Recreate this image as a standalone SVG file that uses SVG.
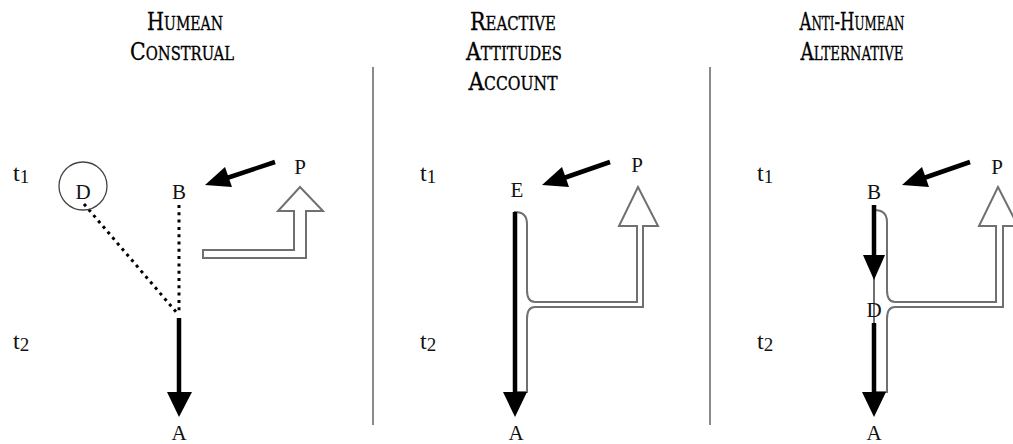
<svg xmlns="http://www.w3.org/2000/svg" width="1013" height="444" viewBox="0 0 1013 444">
<style>
.title{font-family:"DejaVu Serif","Liberation Serif",serif;font-stretch:condensed;font-size:25px;font-variant:small-caps;fill:#000;stroke:#000;stroke-width:0.3;text-anchor:middle}
.lbl{font-family:"Liberation Serif",serif;font-size:21px;fill:#111;text-anchor:middle}
.t{font-family:"Liberation Serif",serif;font-size:24px;fill:#111}
.sub{font-size:19px}
.sep{stroke:#8a8a8a;stroke-width:2;fill:none}
.blk{stroke:#000;stroke-width:4.5;fill:none}
.head{fill:#000;stroke:none}
.hollow{fill:#fff;stroke:#707070;stroke-width:2;stroke-linejoin:miter}
.dots{stroke:#000;stroke-width:3;fill:none;stroke-dasharray:3 4.3}
</style>
<g id="titles">
<text class="title" x="185" y="30" textLength="76" lengthAdjust="spacingAndGlyphs">Humean</text>
<text class="title" x="182" y="60" textLength="104" lengthAdjust="spacingAndGlyphs">Construal</text>
<text class="title" x="513" y="30" textLength="86" lengthAdjust="spacingAndGlyphs">Reactive</text>
<text class="title" x="514" y="60" textLength="96" lengthAdjust="spacingAndGlyphs">Attitudes</text>
<text class="title" x="513" y="90" textLength="89" lengthAdjust="spacingAndGlyphs">Account</text>
<text class="title" x="852" y="30" textLength="105" lengthAdjust="spacingAndGlyphs">Anti-Humean</text>
<text class="title" x="852" y="60" textLength="103" lengthAdjust="spacingAndGlyphs">Alternative</text>
</g>
<g id="separators">
<line class="sep" x1="373" y1="67" x2="373" y2="425"/>
<line class="sep" x1="710" y1="67" x2="710" y2="425"/>
</g>
<g id="time-labels">
<text class="t" x="13" y="181">t<tspan class="sub" dy="2">1</tspan></text>
<text class="t" x="13" y="349">t<tspan class="sub" dy="2">2</tspan></text>
<text class="t" x="420" y="181">t<tspan class="sub" dy="2">1</tspan></text>
<text class="t" x="420" y="349">t<tspan class="sub" dy="2">2</tspan></text>
<text class="t" x="757" y="181">t<tspan class="sub" dy="2">1</tspan></text>
<text class="t" x="757" y="349">t<tspan class="sub" dy="2">2</tspan></text>
</g>
<g id="connectors">
<!-- panel 1 -->
<line class="dots" x1="84" y1="204" x2="177" y2="313"/>
<line class="dots" x1="179" y1="205" x2="179" y2="314"/>
<line class="blk" x1="179" y1="318" x2="179" y2="394"/>
<polygon class="head" points="167,392 192,392 179,417"/>
<line class="blk" x1="275" y1="162" x2="224" y2="179"/>
<polygon class="head" points="205,185 225,167 232,187"/>
<path class="hollow" d="M203,250 L294,250 L294,211 L278,211 L300,187 L323,211 L306,211 L306,258 L203,258 Z"/>
<!-- panel 2 -->
<line class="blk" x1="610" y1="162" x2="561" y2="179"/>
<polygon class="head" points="542,185 562,167 569,187"/>
<path class="hollow" d="M515,212 Q527,212 527,224 L527,290 Q527,302 535,302 L637,302 L637,226 L619,226 L638,187 L658,226 L643,226 L643,307 L535,307 Q527,307 527,319 L527,392 L515,392 Z"/>
<line class="blk" x1="515" y1="212" x2="515" y2="394"/>
<polygon class="head" points="503,392 527,392 515,417"/>
<!-- panel 3 -->
<line class="blk" x1="970" y1="162" x2="921" y2="179"/>
<polygon class="head" points="902,185 922,167 929,187"/>
<path class="hollow" d="M874,210 Q887,210 887,222 L887,290 Q887,302 895,302 L996,302 L996,226 L979,226 L998,187 L1018,226 L1003,226 L1003,307 L895,307 Q887,307 887,319 L887,392 L874,392 Z"/>
<line class="blk" x1="874" y1="205" x2="874" y2="257"/>
<polygon class="head" points="863,255 885,255 874,280"/>
<line class="blk" x1="874" y1="323" x2="874" y2="394"/>
<polygon class="head" points="862,392 886,392 874,417"/>
</g>
<g id="node-D1">
<circle cx="83" cy="186" r="24" fill="none" stroke="#444" stroke-width="1.3"/>
<text class="lbl" x="83" y="199">D</text>
</g>
<g id="node-B1"><text class="lbl" x="179" y="199">B</text></g>
<g id="node-P1"><text class="lbl" x="300" y="174">P</text></g>
<g id="node-A1"><text class="lbl" x="179" y="440">A</text></g>
<g id="node-E2"><text class="lbl" x="517" y="197">E</text></g>
<g id="node-P2"><text class="lbl" x="637" y="172">P</text></g>
<g id="node-A2"><text class="lbl" x="516" y="440">A</text></g>
<g id="node-B3"><text class="lbl" x="874" y="199">B</text></g>
<g id="node-P3"><text class="lbl" x="997" y="174">P</text></g>
<g id="node-D3"><text class="lbl" x="874" y="317">D</text></g>
<g id="node-A3"><text class="lbl" x="874" y="440">A</text></g>
</svg>
